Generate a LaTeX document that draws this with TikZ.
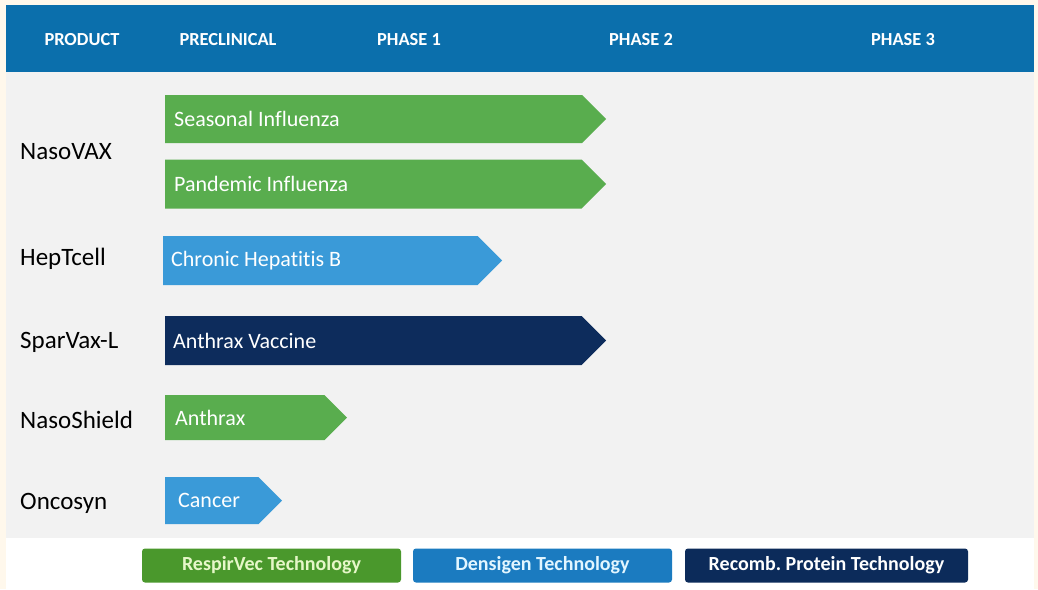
\documentclass[tikz,border=0pt]{standalone}
\usepackage{fontspec}
\setmainfont[Ligatures=NoCommon]{Carlito}
\usetikzlibrary{shapes.symbols}
\frenchspacing

\definecolor{cream}{HTML}{FFF8EC}
\definecolor{panel}{HTML}{F2F2F2}
\definecolor{hdrblue}{HTML}{0B6FAC}
\definecolor{armgreen}{HTML}{59AD4E}
\definecolor{armblue}{HTML}{3A9AD8}
\definecolor{armnavy}{HTML}{0D2C5C}
\definecolor{keygreen}{HTML}{4A982C}
\definecolor{keyblue}{HTML}{1B7BC0}
\definecolor{keynavy}{HTML}{0C2B5A}
\definecolor{keygreentext}{HTML}{E6F7C8}
\definecolor{keybluetext}{HTML}{E2F6FF}

\tikzset{
  colhead/.style={text=white, font=\bfseries\fontsize{18.4}{20}\selectfont, inner sep=0pt},
  rowlabel/.style={anchor=west, text=black, font=\fontsize{25}{28}\selectfont, inner sep=0pt},
  progress/.style={shape=signal, signal to=east, signal from=nowhere,
    signal pointer angle=90, anchor=west, draw=none, inner sep=0pt, outer sep=0pt},
  armtext/.style={anchor=west, text=white, font=\fontsize{22}{25}\selectfont, inner sep=0pt},
  keybox/.style={rounded corners=3pt, minimum height=34pt, inner sep=0pt,
    font=\bfseries\fontsize{20}{22}\selectfont},
}

\begin{document}
\begin{tikzpicture}[x=1pt,y=-1pt]
  % canvas and panels
  \fill[cream] (0,0) rectangle (1038,589);
  \useasboundingbox (0,0) rectangle (1038,589);
  \fill[panel] (6,72) rectangle (1034,538);
  \fill[white] (6,538) rectangle (1034,589);
  \fill[hdrblue] (6,5) rectangle (1034,72);

  % column headings
  \node[colhead] (hprod)  at (82,40)  {PRODUCT};
  \node[colhead] (hpre)   at (228,40) {PRECLINICAL};
  \node[colhead] (hph1)   at (409,40) {PHASE 1};
  \node[colhead] (hph2)   at (641,40) {PHASE 2};
  \node[colhead] (hph3)   at (903,40) {PHASE 3};

  % product names
  \node[rowlabel] (nasovax)    at (20,151.5) {NasoVAX};
  \node[rowlabel] (heptcell)   at (20,258.5) {HepTcell};
  \node[rowlabel] (sparvax)    at (20,342.5) {SparVax-L};
  \node[rowlabel] (nasoshield) at (20,419.5) {NasoShield};
  \node[rowlabel] (oncosyn)    at (20,503.5) {Oncosyn};

  % development progress arrows
  \node[progress, fill=armgreen, minimum width=441pt, minimum height=48pt] (seas) at (165,119) {};
  \node[armtext] (seastxt) at ([xshift=9pt]seas.west) {Seasonal Influenza};

  \node[progress, fill=armgreen, minimum width=441pt, minimum height=49pt] (pand) at (165,184) {};
  \node[armtext] (pandtxt) at ([xshift=9pt]pand.west) {Pandemic Influenza};

  \node[progress, fill=armblue, minimum width=339pt, minimum height=49pt] (hepb) at (163,260.5) {};
  \node[armtext] (hepbtxt) at ([xshift=8pt]hepb.west) {Chronic Hepatitis B};

  \node[progress, fill=armnavy, minimum width=441pt, minimum height=49pt] (anthv) at (165,340.5) {};
  \node[armtext] (anthvtxt) at ([xshift=8pt]anthv.west) {Anthrax Vaccine};

  \node[progress, fill=armgreen, minimum width=182pt, minimum height=45pt] (anth) at (165,417.5) {};
  \node[armtext] (anthtxt) at ([xshift=10pt]anth.west) {Anthrax};

  \node[progress, fill=armblue, minimum width=117pt, minimum height=47pt] (canc) at (165,500.5) {};
  \node[armtext] (canctxt) at ([xshift=13pt]canc.west) {Cancer};

  % technology key
  \node[keybox, fill=keygreen, text=keygreentext, minimum width=259pt] (krespir) at (271.5,565.5) {RespirVec Technology};
  \node[keybox, fill=keyblue, text=keybluetext, minimum width=259pt] (kdensigen) at (542.5,565.5) {Densigen Technology};
  \node[keybox, fill=keynavy, text=white, minimum width=283pt] (krecomb) at (826.5,565.5) {Recomb. Protein Technology};
\end{tikzpicture}
\end{document}
